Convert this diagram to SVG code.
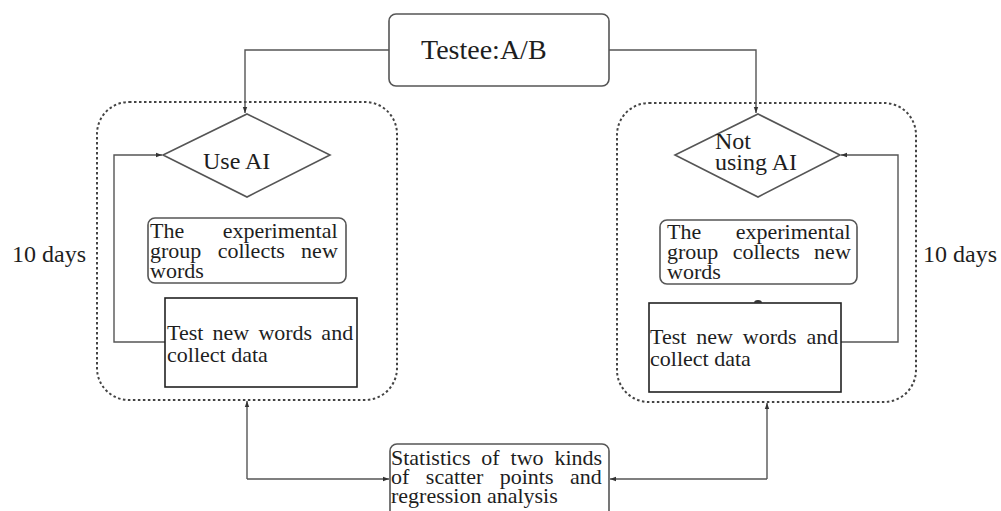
<svg xmlns="http://www.w3.org/2000/svg" width="1001" height="511" viewBox="0 0 1001 511">
  <defs>
    <marker id="arr" viewBox="0 0 6 6" refX="6" refY="3" markerWidth="6" markerHeight="6" orient="auto" markerUnits="userSpaceOnUse">
      <path d="M0,0.8 L6,3 L0,5.2 Z" fill="#333"/>
    </marker>
    <style>
      .txt { font-family: 'Liberation Serif', 'Times New Roman', serif; fill: #1e1e1e; }
      .body { font-size: 22px; }
      .box { fill: #fff; stroke: #555; stroke-width: 1.6; }
      .rect { fill: #fff; stroke: #222; stroke-width: 1.6; }
      .group { fill: none; stroke: #444; stroke-width: 2; stroke-dasharray: 2.5 2.5; }
      .wire { fill: none; stroke: #555; stroke-width: 1.4; }
    </style>
  </defs>
  <rect width="1001" height="511" fill="#fff"/>

  <!-- dotted group frames -->
  <g id="group-left">
    <rect class="group" x="97" y="102" width="300" height="298" rx="32"/>
  </g>
  <g id="group-right">
    <rect class="group" x="617" y="103" width="299" height="299" rx="32"/>
  </g>

  <!-- connectors -->
  <g id="connectors">
    <path class="wire" d="M389,50 H245 V113" marker-end="url(#arr)"/>
    <path class="wire" d="M609,50 H756 V113" marker-end="url(#arr)"/>
    <path class="wire" d="M165,342 H114 V155 H162" marker-end="url(#arr)"/>
    <path class="wire" d="M841,342 H898 V155 H841" marker-end="url(#arr)"/>
    <path class="wire" d="M247,479 V401" marker-end="url(#arr)"/>
    <path class="wire" d="M247,479 H389" marker-end="url(#arr)"/>
    <path class="wire" d="M767,479 V403" marker-end="url(#arr)"/>
    <path class="wire" d="M767,479 H610" marker-end="url(#arr)"/>
  </g>

  <g id="testee">
    <rect class="box" x="389" y="14" width="220" height="72" rx="7"/>
    <text class="txt" x="421" y="59" font-size="28">Testee:A/B</text>
  </g>

  <g id="use-ai">
    <polygon class="box" points="247,114 330,155 247,197 163,155"/>
    <text class="txt" x="203" y="169" font-size="24">Use AI</text>
  </g>

  <!-- justified lines: extra word-spacing fills each line to the box width -->
  <g id="collect-left">
    <rect class="box" x="148" y="218" width="198" height="65" rx="7"/>
    <text class="txt body" x="150" y="238" word-spacing="33">The experimental</text>
    <text class="txt body" x="150" y="258" word-spacing="10.8">group collects new</text>
    <text class="txt body" x="150" y="278">words</text>
  </g>

  <g id="test-left">
    <rect class="rect" x="165" y="298" width="192" height="89"/>
    <text class="txt body" x="167" y="340" word-spacing="3.7">Test new words and</text>
    <text class="txt body" x="167" y="362">collect data</text>
  </g>

  <g id="not-using-ai">
    <polygon class="box" points="758,114 840,155 758,197 675,155"/>
    <text class="txt" x="715" y="149" font-size="24">Not</text>
    <text class="txt" x="715" y="170" font-size="24">using AI</text>
  </g>

  <g id="collect-right">
    <rect class="box" x="660" y="220" width="197" height="64" rx="7"/>
    <text class="txt body" x="667" y="239" word-spacing="29">The experimental</text>
    <text class="txt body" x="667" y="259" word-spacing="8.8">group collects new</text>
    <text class="txt body" x="667" y="279">words</text>
  </g>

  <g id="test-right">
    <rect class="rect" x="649" y="303" width="192" height="89"/>
    <path d="M754,303 A4,3 0 0 1 762,303 Z" fill="#333"/>
    <text class="txt body" x="650" y="344" word-spacing="4.4">Test new words and</text>
    <text class="txt body" x="650" y="366">collect data</text>
  </g>

  <g id="statistics">
    <rect class="box" x="390" y="444" width="219" height="80" rx="7"/>
    <text class="txt body" x="391" y="465" word-spacing="5.4">Statistics of two kinds</text>
    <text class="txt body" x="391" y="484" word-spacing="11">of scatter points and</text>
    <text class="txt body" x="391" y="503">regression analysis</text>
  </g>

  <g id="label-left">
    <text class="txt" x="12" y="262" font-size="24">10 days</text>
  </g>
  <g id="label-right">
    <text class="txt" x="923" y="262" font-size="24">10 days</text>
  </g>
</svg>
